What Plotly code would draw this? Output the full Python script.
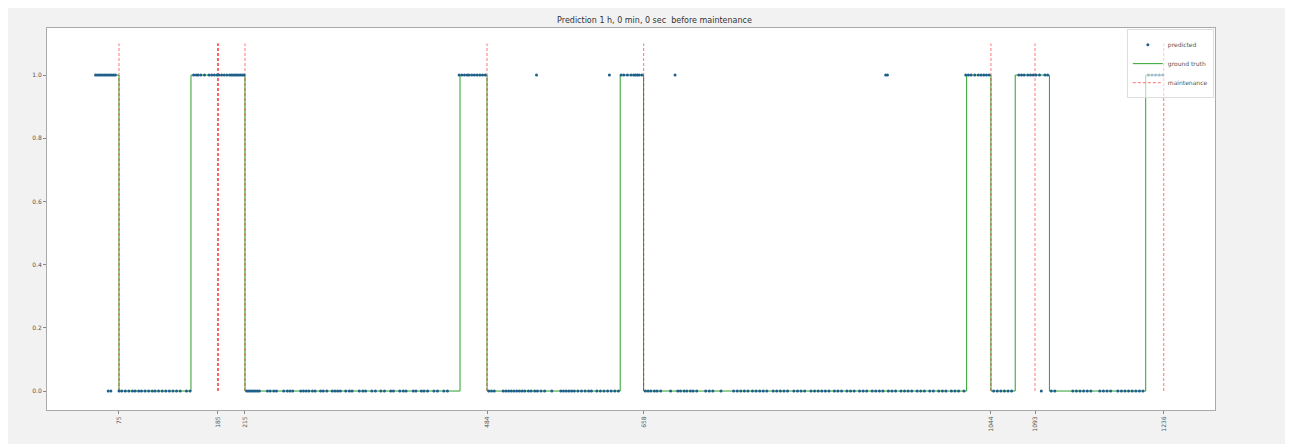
import plotly.graph_objects as go

title = "Prediction 1 h, 0 min, 0 sec  before maintenance"

maint_x = [75, 185, 185, 185, 215, 484, 658, 1044, 1093, 1236]
tick_vals = [75, 185, 215, 484, 658, 1044, 1093, 1236]
tick_text = ["75", "185", "215", "484", "658", "1044", "1093", "1236"]

gt_x = [48, 75, 155, 215, 454, 484, 632, 658, 1017, 1044, 1071, 1109, 1216, 1236]
gt_y = [1, 0, 1, 0, 1, 0, 1, 0, 1, 0, 1, 0, 1, 1]

pred1_x = [49, 51, 53, 55, 57, 59, 61, 63, 65, 67, 69, 71,
           158, 161, 163, 166, 170, 175, 178, 181, 184, 186, 189, 192, 195, 198, 200, 202, 204, 206, 208, 210, 212, 214,
           453, 456, 459, 462, 464, 467, 470, 473, 476, 479, 482,
           539, 620,
           633, 636, 640, 644, 647, 649, 651, 653, 656,
           693, 927, 929,
           1016, 1019, 1022, 1026, 1030, 1033, 1036, 1039, 1042,
           1075, 1078, 1081, 1085, 1088, 1091, 1094, 1098, 1104, 1107,
           1219, 1223, 1227, 1231, 1235]
pred0_x = [63, 66, 75, 78, 82, 86, 90, 93, 97, 100, 104, 108, 112, 115, 119, 123, 127, 131, 135, 139, 143, 150, 154,
           217, 219, 221, 223, 225, 227, 229, 231, 240, 243, 247, 250, 258, 262, 265, 268, 277, 280, 283, 286, 290, 293,
           299, 302, 306, 312, 315, 318, 321, 327, 331, 334, 342, 346, 349, 356, 360, 366, 370, 377, 380, 387, 391, 394,
           402, 405, 411, 414, 418, 425, 429, 436, 440,
           486, 489, 492, 502, 505, 508, 511, 514, 517, 520, 523, 526, 530, 533, 537, 540, 544, 548, 556,
           566, 569, 572, 575, 578, 581, 585, 589, 593, 597, 600, 606, 610, 614, 618, 622, 626, 630,
           660, 663, 666, 670, 673, 677, 688, 696, 699, 703, 706, 710, 713, 717, 727, 731, 735, 744,
           758, 762, 766, 770, 774, 779, 783, 787, 791, 795, 802, 806, 810, 814, 818, 825, 829, 833, 837,
           844, 848, 852, 856, 860, 864, 870, 874, 878, 884, 888, 892, 898, 902, 906, 912, 916, 920, 924,
           930, 934, 938, 944, 948, 952, 956, 962, 966, 970, 976, 980, 986, 990, 994, 1000, 1004, 1008, 1014,
           1047, 1051, 1055, 1059, 1063, 1067, 1100,
           1111, 1115, 1135, 1139, 1143, 1147, 1151, 1155, 1165, 1169, 1173, 1177,
           1185, 1189, 1193, 1197, 1201, 1205, 1209, 1213]

pred_x = pred1_x + pred0_x
pred_y = [1] * len(pred1_x) + [0] * len(pred0_x)

fig = go.Figure()

mx, my = [], []
for v in maint_x:
    mx += [v, v, None]
    my += [0, 1.1, None]

fig.add_trace(go.Scatter(x=gt_x, y=gt_y, mode="lines", line_shape="hv",
                         line=dict(color="#2ca02c", width=1), name="ground truth", legendrank=2))
fig.add_trace(go.Scatter(x=mx, y=my, mode="lines",
                         line=dict(color="rgba(255,0,0,0.45)", width=1.2, dash="3px,2px"),
                         name="maintenance", legendrank=3))
fig.add_trace(go.Scatter(x=pred_x, y=pred_y, mode="markers",
                         marker=dict(color="#1f5f8b", size=3), name="predicted", legendrank=1))

fig.update_layout(
    width=1293, height=444,
    paper_bgcolor="#f2f2f2", plot_bgcolor="white",
    margin=dict(l=39, r=86, t=20, b=42),
    title=dict(text=title, x=0.5, xanchor="center", y=0.972, yanchor="middle",
               font=dict(size=8, color="#333333", family="DejaVu Sans")),
    font=dict(family="DejaVu Sans", size=6, color="#444444"),
    showlegend=True,
    legend=dict(x=0.999, y=0.997, xanchor="right", yanchor="top",
                bgcolor="rgba(255,255,255,0.6)", bordercolor="#dddddd", borderwidth=1,
                font=dict(size=6, color="#555555"), tracegroupgap=0, itemwidth=30),
)
fig.update_xaxes(range=[-5, 1293], tickmode="array", tickvals=tick_vals, ticktext=tick_text,
                 tickangle=-90, ticks="outside", ticklen=3, tickcolor="#888888",
                 showgrid=False, zeroline=False, showline=True, linecolor="#aaaaaa", mirror=True,
                 tickfont=dict(size=6, color="#555555"))
fig.update_yaxes(range=[-0.06, 1.149], tickvals=[0, 0.2, 0.4, 0.6, 0.8, 1.0],
                 ticktext=["0.0", "0.2", "0.4", "0.6", "0.8", "1.0"],
                 ticks="outside", ticklen=3, tickcolor="#888888",
                 showgrid=False, zeroline=False, showline=True, linecolor="#aaaaaa", mirror=True,
                 tickfont=dict(size=6, color="#555555"))

fig.write_html("out.html")
